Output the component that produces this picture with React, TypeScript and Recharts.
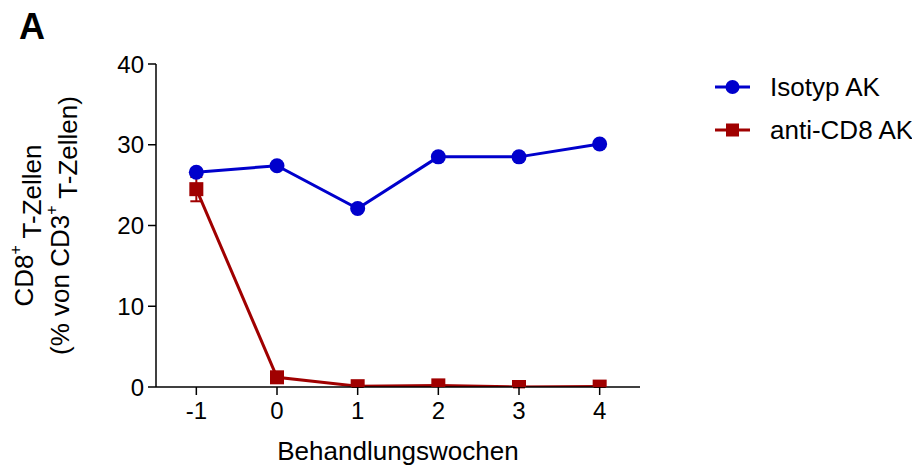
import React from "react";
import { LineChart, Line, XAxis, YAxis, ErrorBar } from "recharts";

const weeks = [-1, 0, 1, 2, 3, 4];
const isotyp = [26.6, 27.4, 22.1, 28.5, 28.5, 30.1];
const antiCD8 = [24.5, 1.2, 0.1, 0.2, 0.0, 0.05];
const antiCD8Err = [1.5, 0.6, 0.1, 0.1, 0.05, 0.05];
const yTicks = [0, 10, 20, 30, 40];
const seriesNames = ["Isotyp AK", "anti-CD8 AK"];

const BLUE = "#0000CC";
const RED = "#A00000";
const FONT = "'Liberation Sans', Arial, sans-serif";

const data = weeks.map((w, i) => ({
  week: w,
  iso: isotyp[i],
  cd8: antiCD8[i],
  cd8Err: antiCD8Err[i],
}));

const SquareDot = (props: any) => {
  const { cx, cy } = props;
  if (cx == null || cy == null) return null;
  return <rect x={cx - 7} y={cy - 7} width={14} height={14} fill={RED} />;
};

const CircleDot = (props: any) => {
  const { cx, cy } = props;
  if (cx == null || cy == null) return null;
  return <circle cx={cx} cy={cy} r={7.5} fill={BLUE} />;
};

const LegendBox = () => (
  <svg width={215} height={80} style={{ position: "absolute", left: 700, top: 62 }}>
    <line x1={7} y1={17} x2={42} y2={17} stroke={BLUE} strokeWidth={3} />
    <circle cx={24.5} cy={17} r={7} fill={BLUE} />
    <text x={62} y={17} dy="0.35em" fontSize={26} fontFamily={FONT} fill="#000">
      {seriesNames[0]}
    </text>
    <line x1={7} y1={60} x2={42} y2={60} stroke={RED} strokeWidth={3} />
    <rect x={18} y={53.5} width={13} height={13} fill={RED} />
    <text x={62} y={60} dy="0.35em" fontSize={26} fontFamily={FONT} fill="#000">
      {seriesNames[1]}
    </text>
  </svg>
);

const YLabel = (props: any) => {
  const { viewBox } = props;
  const cy = viewBox.y + viewBox.height / 2;
  const x1 = 16;
  const x2 = 52;
  return (
    <g fontFamily={FONT} fontSize={26} fill="#000">
      <text transform={`translate(${x1},${cy}) rotate(-90)`} textAnchor="middle" dy="0.35em">
        CD8<tspan fontSize={16} dy="-0.75em">+</tspan>
        <tspan dy="0.75em"> T-Zellen</tspan>
      </text>
      <text transform={`translate(${x2},${cy}) rotate(-90)`} textAnchor="middle" dy="0.35em">
        (% von CD3<tspan fontSize={16} dy="-0.75em">+</tspan>
        <tspan dy="0.75em"> T-Zellen)</tspan>
      </text>
    </g>
  );
};

export default function App() {
  return (
    <div style={{ position: "relative", width: 904, height: 458 }}>
      <div
        style={{
          position: "absolute",
          left: 11,
          top: -2,
          fontFamily: FONT,
          fontWeight: "bold",
          fontSize: 36,
          color: "#000",
        }}
      >
        A
      </div>
      <LegendBox />
      <LineChart
        width={904}
        height={458}
        data={data}
        margin={{ top: 56, right: 272, bottom: 49, left: 88 }}
      >
        <XAxis
          dataKey="week"
          type="number"
          domain={[-1.5, 4.5]}
          allowDataOverflow
          ticks={weeks}
          stroke="#000"
          strokeWidth={1.5}
          tickSize={8}
          tickMargin={7}
          height={30}
          tick={{ fill: "#000", fontSize: 24, fontFamily: FONT }}
          label={{
            value: "Behandlungswochen",
            position: "insideBottom",
            offset: -43,
            fill: "#000",
            fontSize: 26,
            fontFamily: FONT,
          }}
        />
        <YAxis
          type="number"
          domain={[0, 40]}
          allowDataOverflow
          ticks={yTicks}
          width={60}
          stroke="#000"
          strokeWidth={1.5}
          tickSize={8}
          tickMargin={4}
          tick={{ fill: "#000", fontSize: 24, fontFamily: FONT }}
          label={<YLabel />}
        />
        <Line
          dataKey="iso"
          name={seriesNames[0]}
          stroke={BLUE}
          strokeWidth={3}
          dot={<CircleDot />}
          isAnimationActive={false}
        />
        <Line
          dataKey="cd8"
          name={seriesNames[1]}
          stroke={RED}
          strokeWidth={3}
          dot={<SquareDot />}
          isAnimationActive={false}
        >
          <ErrorBar dataKey="cd8Err" stroke={RED} strokeWidth={2} width={6} direction="y" />
        </Line>
      </LineChart>
    </div>
  );
}
